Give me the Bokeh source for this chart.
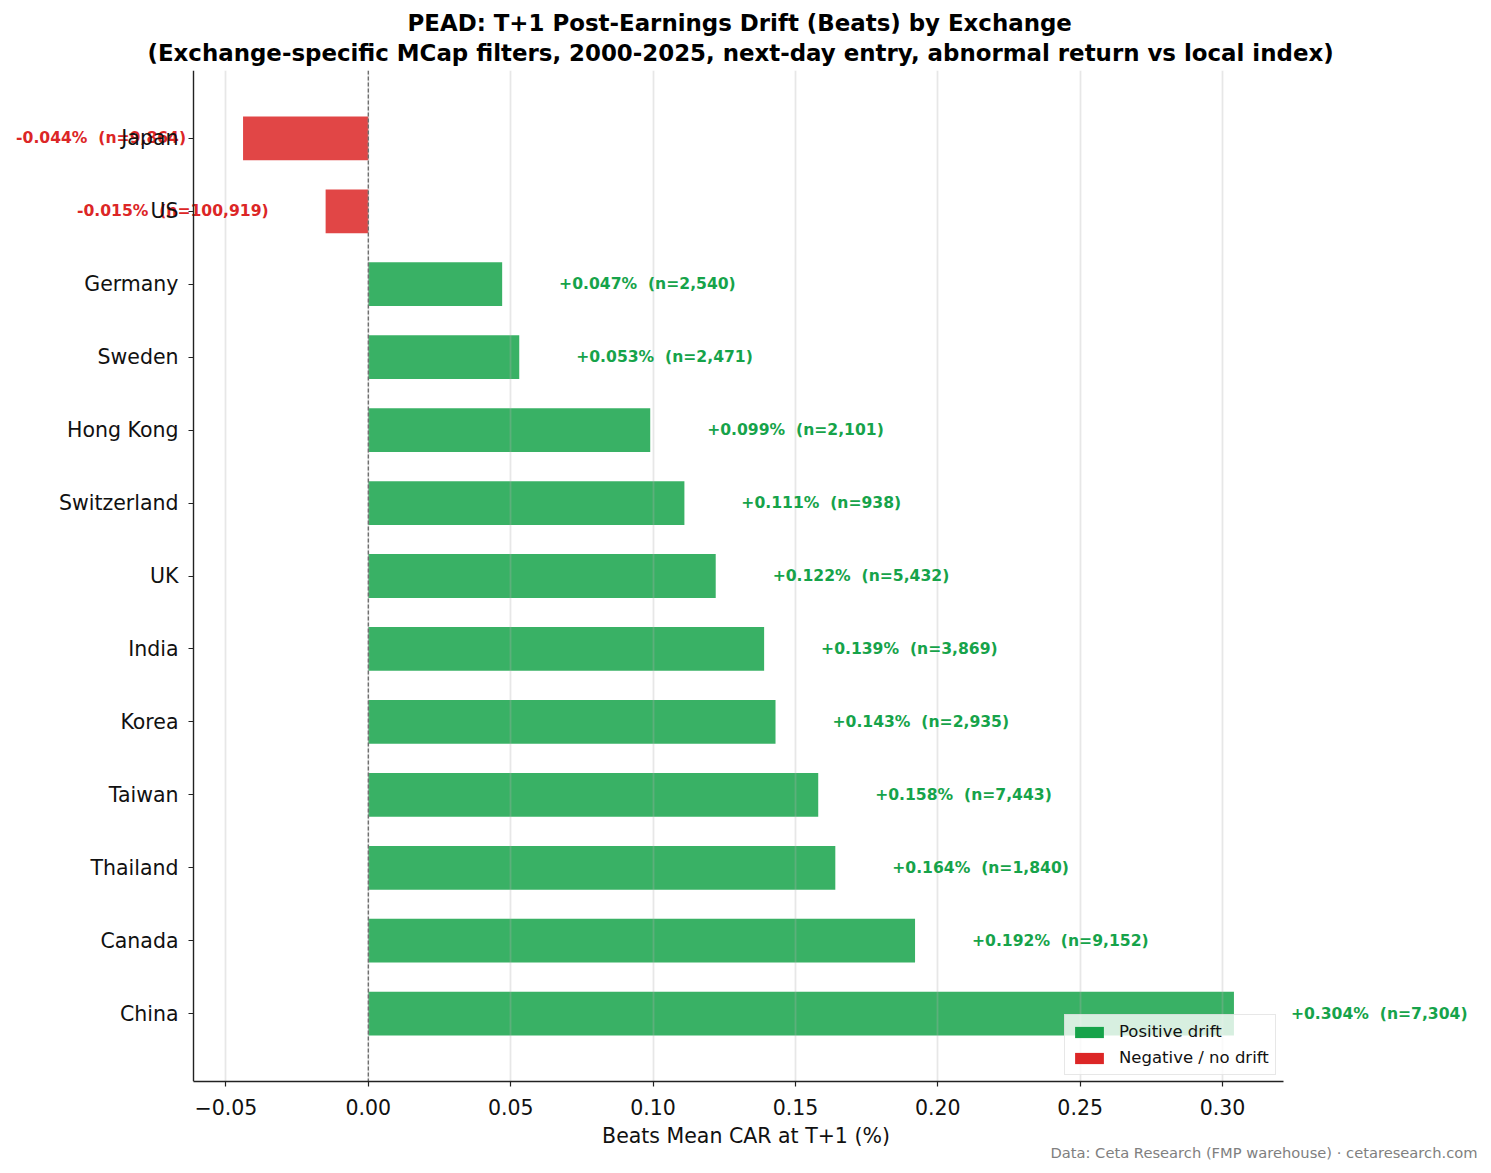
from bokeh.plotting import figure
from bokeh.models import (ColumnDataSource, Range1d, FixedTicker, Span, Title,
                          Legend, LegendItem)
from bokeh.core.properties import value
from bokeh.embed import file_html
from bokeh.resources import INLINE

# Exchanges ordered top to bottom, with T+1 mean CAR (%) and sample size
exchanges = ["Japan", "US", "Germany", "Sweden", "Hong Kong", "Switzerland", "UK",
             "India", "Korea", "Taiwan", "Thailand", "Canada", "China"]
car_t1 = [-0.044, -0.015, 0.047, 0.053, 0.099, 0.111, 0.122,
          0.139, 0.143, 0.158, 0.164, 0.192, 0.304]
n_events = [9864, 100919, 2540, 2471, 2101, 938, 5432,
            3869, 2935, 7443, 1840, 9152, 7304]
x_ticks = [-0.05, 0.0, 0.05, 0.10, 0.15, 0.20, 0.25, 0.30]

GREEN = "#16a34a"
RED = "#dc2626"
FONT = "DejaVu Sans"

W, H = 1491, 1173
# axes box in page pixels
AX_L, AX_R, AX_T, AX_B = 193, 1283, 70, 1081

n = len(exchanges)
ypos = [n - 1 - i for i in range(n)]
colors = [GREEN if v > 0 else RED for v in car_t1]
offset = 0.02
label_x = [v + offset if v > 0 else v - offset for v in car_t1]
aligns = ["left" if v > 0 else "right" for v in car_t1]
labels = [f"{v:+.3f}%\u00a0 (n={c:,})" for v, c in zip(car_t1, n_events)]

src = ColumnDataSource(dict(y=ypos, v=car_t1, color=colors, lx=label_x,
                            align=aligns, label=labels))

# data limits with 5% margins; the frame spans the full page width so that
# value labels may run past the axes box
span = max(car_t1) - min(car_t1)
x0 = min(car_t1) - 0.05 * span
x1 = max(car_t1) + 0.05 * span
ppu = (AX_R - AX_L) / (x1 - x0)
xr = Range1d(x0 - AX_L / ppu, x1 + (W - AX_R) / ppu)
ypad = 0.05 * (n - 1 + 0.6)
y0, y1 = -0.3 - ypad, n - 1 + 0.3 + ypad

p = figure(width=W, height=H, output_backend="svg", toolbar_location=None,
           x_range=xr, y_range=Range1d(y0, y1),
           min_border_left=0, min_border_right=0, min_border_top=AX_T,
           min_border_bottom=H - AX_B, background_fill_color="white",
           border_fill_color="white")
p.outline_line_color = None

p.hbar(y="y", left=0, right="v", height=0.6, fill_color="color",
       fill_alpha=0.85, line_color=None, source=src, level="image")

p.add_layout(Span(location=0, dimension="height", line_color="#707070",
                  line_dash="4 2", line_width=1.4, level="glyph"))

p.text(x="lx", y="y", text="label", text_align="align", text_baseline="middle",
       text_color="color", text_font=value(FONT), text_font_style="bold",
       text_font_size="15.6px", source=src)

# Legend swatches come from zero-width bars drawn in the solid colours
g_pos = p.hbar(y=[0], left=[0], right=[0], height=0.6, fill_color=GREEN, line_color=None)
g_neg = p.hbar(y=[0], left=[0], right=[0], height=0.6, fill_color=RED, line_color=None)
legend = Legend(items=[LegendItem(label="Positive drift", renderers=[g_pos]),
                       LegendItem(label="Negative / no drift", renderers=[g_neg])],
                location=(1064, 6), margin=0, padding=6, spacing=5,
                glyph_width=36, glyph_height=14, label_height=21,
                label_text_font=FONT, label_text_font_size="16.5px",
                label_standoff=12, label_text_color="#111111",
                background_fill_alpha=0.8, border_line_color="#d0d0d0",
                border_line_width=1.5)
p.add_layout(legend)

# Axes
p.xaxis.ticker = FixedTicker(ticks=x_ticks)
p.xaxis.major_label_overrides = {t: (f"{t:.2f}".replace("-", "\u2212")) for t in x_ticks}
p.xaxis.bounds = (x0, x1)
p.yaxis.ticker = FixedTicker(ticks=ypos)
p.yaxis.major_label_overrides = {y: name for y, name in zip(ypos, exchanges)}
p.yaxis.fixed_location = x0
for ax in (p.xaxis[0], p.yaxis[0]):
    ax.axis_line_color = "#222222"
    ax.axis_line_width = 1.4
    ax.major_tick_line_color = "#222222"
    ax.major_tick_line_width = 1.2
    ax.major_tick_out = 5
    ax.major_tick_in = 0
    ax.minor_tick_line_color = None
    ax.major_label_text_font = FONT
    ax.major_label_text_font_size = "20.5px"
    ax.major_label_text_color = "#111111"
p.yaxis.major_label_standoff = 10
p.xaxis.major_label_standoff = 12
p.xaxis.axis_label = "Beats Mean CAR at T+1 (%)"
p.xaxis.axis_label_text_font = FONT
p.xaxis.axis_label_text_font_size = "20.5px"
p.xaxis.axis_label_text_font_style = "normal"
p.xaxis.axis_label_text_color = "#111111"
p.xaxis.axis_label_standoff = 6

p.xgrid.grid_line_color = "#b0b0b0"
p.xgrid.grid_line_alpha = 0.3
p.xgrid.grid_line_width = 1.8
p.xgrid.level = "underlay"
p.ygrid.grid_line_color = None

# Two-line title over the axes box
title_kw = dict(align="left", text_font=FONT, text_font_size="22.9px",
                text_font_style="bold", text_color="black")
p.add_layout(Title(text="(Exchange-specific MCap filters, 2000-2025, next-day entry, abnormal return vs local index)",
                   offset=147, standoff=9, **title_kw), "above")
p.add_layout(Title(text="PEAD: T+1 Post-Earnings Drift (Beats) by Exchange",
                   offset=407, standoff=-5, **title_kw), "above")

# Source note
p.add_layout(Title(text="Data: Ceta Research (FMP warehouse) \u00b7 cetaresearch.com",
                   align="right", offset=14, text_font=FONT, text_font_size="14.7px",
                   text_font_style="normal", text_color="#808080", standoff=-18), "below")

open("out.html", "w").write(file_html(p, INLINE))
